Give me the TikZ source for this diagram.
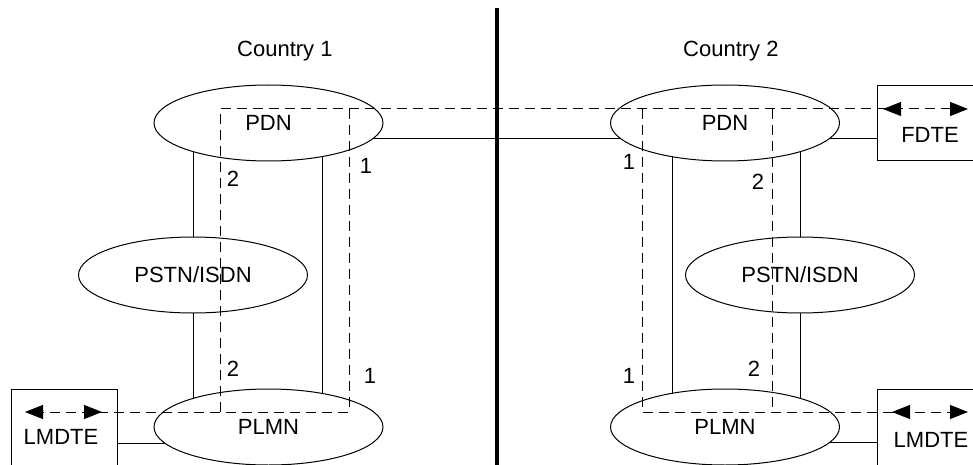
\documentclass[tikz,border=0pt]{standalone}
\usepackage{fontspec}
\setmainfont{Liberation Sans}
\usetikzlibrary{shapes.geometric,arrows.meta}
\pgfdeclarelayer{bg}
\pgfsetlayers{bg,main}
\begin{document}
\begin{tikzpicture}[x=1pt,y=-1pt,
  net/.style={ellipse,draw,line width=1pt,fill=white,minimum width=229pt,minimum height=76pt,inner sep=0pt,font=\fontsize{22}{26}\selectfont},
  lbl/.style={font=\fontsize{22}{26}\selectfont,inner sep=0pt,anchor=base},
  wire/.style={line width=1pt},
  dsh/.style={line width=1pt,dash pattern=on 10pt off 6pt},
  tip/.style={-{Triangle[length=18pt,width=14pt]}},
  box/.style={line width=1pt}]
\useasboundingbox (0,0) rectangle (973,465);
% networks
\node[net] (pdnL) at (268.5,123) {PDN};
\node[net] (pstnL) at (193,275) {PSTN/ISDN};
\node[net] (plmnL) at (268.5,427) {PLMN};
\node[net] (pdnR) at (725,123) {PDN};
\node[net] (pstnR) at (800,275) {PSTN/ISDN};
\node[net] (plmnR) at (725,427) {PLMN};
% terminal boxes
\draw[box] (11,470) -- (11,389) -- (117,389) -- (117,470);
\draw[box] (980,86) -- (877,86) -- (877,161) -- (980,161);
\draw[box] (877,470) -- (877,389) -- (980,389);
\node[lbl] (lmdteL) at (61,444) {LMDTE};
\node[lbl] (fdte) at (930,143) {FDTE};
\node[lbl] (lmdteR) at (931,447) {LMDTE};
\coordinate (lmLport) at (117,443);
\coordinate (fdteport) at (877,139);
\coordinate (lmRport) at (877,442);
% solid connectors (behind)
\begin{pgfonlayer}{bg}
\draw[wire] (pdnL.center -| pstnL.center) -- (plmnL.center -| pstnL.center);
\draw[wire] ([xshift=53.5pt]pdnL.center) -- ([xshift=53.5pt]plmnL.center);
\draw[wire] ([xshift=-53pt]pdnR.center) -- ([xshift=-53pt]plmnR.center);
\draw[wire] (pdnR.center -| pstnR.center) -- (plmnR.center -| pstnR.center);
\draw[wire] ([shift={(0,16)}]pdnL.center) -- ([shift={(0,16)}]pdnR.center);
\draw[wire] ([shift={(0,16)}]pdnR.center) -- (fdteport);
\draw[wire] (lmLport) -- ([shift={(0,16)}]plmnL.center);
\draw[wire] ([shift={(0,15)}]plmnR.center) -- (lmRport);
\end{pgfonlayer}
% divider
\coordinate (divT) at (497,8);
\coordinate (divB) at (497,466);
\draw[line width=4pt] (divT) -- (divB);
\node[lbl,anchor=base west] (c1) at (237,57) {Country 1};
\node[lbl,anchor=base west] (c2) at (683,57) {Country 2};
% dashed routes
\coordinate (d1) at (220,109);
\coordinate (d2) at (349,109);
\coordinate (d3) at (642,109);
\coordinate (d4) at (772,109);
\coordinate (d1b) at (220,412);
\coordinate (d2b) at (349,412);
\coordinate (d3b) at (642,412);
\coordinate (d4b) at (772,412);
\coordinate (tipF) at (968,109);
\coordinate (tipLL) at (25,412);
\coordinate (tipR) at (968,412);
\draw[dsh,tip] (d1b) -- (d1) -- (tipF);
\draw[dsh,tip] (d2) -- (d2b) -- (tipLL);
\draw[dsh,tip] (d3) -- (d3b) -- (tipR);
\draw[dsh] (d4) -- (d4b);
\coordinate (m1a) at (101,412); \coordinate (m1b) at (102,412);
\coordinate (m2a) at (884,109); \coordinate (m2b) at (883,109);
\coordinate (m3a) at (893,412); \coordinate (m3b) at (892,412);
\draw[wire,tip] (m1a) -- (m1b);
\draw[wire,tip] (m2a) -- (m2b);
\draw[wire,tip] (m3a) -- (m3b);
% labels
\node[lbl] (n1) at (233,186) {2};
\node[lbl] (n2) at (366,173) {1};
\node[lbl] (n3) at (629,170) {1};
\node[lbl] (n4) at (758,189) {2};
\node[lbl] (n5) at (233,376) {2};
\node[lbl] (n6) at (370,383) {1};
\node[lbl] (n7) at (629,383) {1};
\node[lbl] (n8) at (754,376) {2};
\end{tikzpicture}
\end{document}
